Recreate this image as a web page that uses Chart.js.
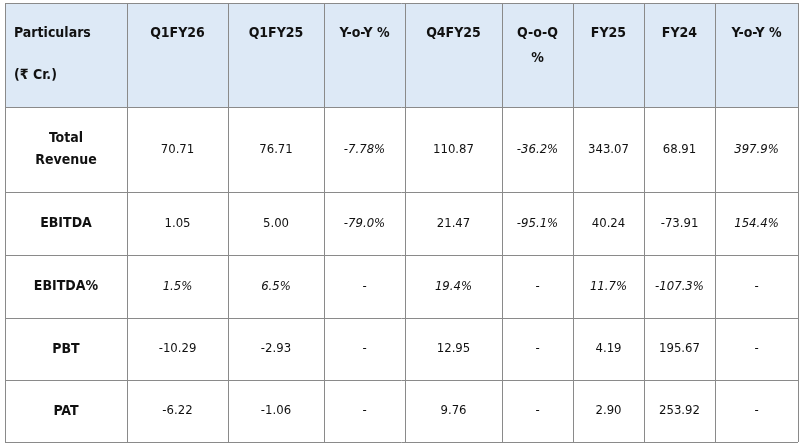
<!DOCTYPE html>
<html><head><meta charset="utf-8">
<script src="https://cdn.jsdelivr.net/npm/chart.js@4"></script>
<style>html,body{margin:0;padding:0;background:#fff}#wrap{width:801px;height:445px}</style>
</head><body><div id="wrap"><canvas id="tbl"></canvas></div>
<script>
// Table data
const headers = ['Particulars\n\n(₹ Cr.)', 'Q1FY26', 'Q1FY25', 'Y-o-Y %', 'Q4FY25', 'Q-o-Q\n%', 'FY25', 'FY24', 'Y-o-Y %'];
const rowLabels = ['Total\nRevenue', 'EBITDA', 'EBITDA%', 'PBT', 'PAT'];
const totalRevenue = ['70.71', '76.71', '-7.78%', '110.87', '-36.2%', '343.07', '68.91', '397.9%'];
const ebitda = ['1.05', '5.00', '-79.0%', '21.47', '-95.1%', '40.24', '-73.91', '154.4%'];
const ebitdaPct = ['1.5%', '6.5%', '-', '19.4%', '-', '11.7%', '-107.3%', '-'];
const pbt = ['-10.29', '-2.93', '-', '12.95', '-', '4.19', '195.67', '-'];
const pat = ['-6.22', '-1.06', '-', '9.76', '-', '2.90', '253.92', '-'];
const rows = [totalRevenue, ebitda, ebitdaPct, pbt, pat];

// layout (pixel grid units on the hidden linear scales)
const colEdges = [5, 127, 228, 324, 405, 502, 573, 644, 715, 798];
const rowEdges = [3, 107, 192, 255, 318, 380, 442];
const italicCell = (r, c) => r === 2 || (r < 2 && (c === 2 || c === 4 || c === 7));
const FONT = '"DejaVu Sans Condensed", "DejaVu Sans"';

const tablePlugin = {
  id: 'table',
  afterDraw(chart) {
    const ctx = chart.ctx, xs = chart.scales.x, ys = chart.scales.y;
    const X = v => xs.getPixelForValue(v), Y = v => ys.getPixelForValue(v);
    ctx.save();
    ctx.fillStyle = '#dde9f6';
    ctx.fillRect(X(colEdges[0]), Y(rowEdges[0]), X(colEdges[9]) - X(colEdges[0]), Y(rowEdges[1]) - Y(rowEdges[0]));
    ctx.strokeStyle = '#8a8a8a';
    ctx.lineWidth = 1;
    ctx.beginPath();
    colEdges.forEach(c => { ctx.moveTo(Math.round(X(c)) + .5, Y(rowEdges[0])); ctx.lineTo(Math.round(X(c)) + .5, Y(rowEdges[6])); });
    rowEdges.forEach(r => { ctx.moveTo(X(colEdges[0]), Math.round(Y(r)) + .5); ctx.lineTo(X(colEdges[9]), Math.round(Y(r)) + .5); });
    ctx.stroke();
    ctx.fillStyle = '#111';
    ctx.textBaseline = 'middle';
    const drawLines = (text, x, yTop, align, font, lh) => {
      ctx.font = font; ctx.textAlign = align;
      text.split('\n').forEach((l, i) => ctx.fillText(l, x, yTop + i * lh));
    };
    headers.forEach((h, c) => {
      const x0 = X(colEdges[c]), x1 = X(colEdges[c + 1]);
      if (c === 0) drawLines(h, x0 + 9, Y(33), 'left', 'bold 14px ' + FONT, 21);
      else drawLines(h, (x0 + x1) / 2, Y(33), 'center', 'bold 14px ' + FONT, 25);
    });
    rows.forEach((vals, r) => {
      const yc = (Y(rowEdges[r + 1]) + Y(rowEdges[r + 2])) / 2;
      const lab = rowLabels[r], n = lab.split('\n').length;
      drawLines(lab, (X(colEdges[0]) + X(colEdges[1])) / 2, yc - (n - 1) * 11, 'center', 'bold 14px ' + FONT, 22);
      vals.forEach((v, c) => {
        const x = (X(colEdges[c + 1]) + X(colEdges[c + 2])) / 2;
        const it = italicCell(r, c) && v !== '-';
        drawLines(v, x, yc, 'center', (it ? 'italic ' : '') + '13px ' + FONT, 16);
      });
    });
    ctx.restore();
  }
};

new Chart(document.getElementById('tbl'), {
  type: 'scatter',
  data: { datasets: [{ data: [], pointRadius: 0 }] },
  options: {
    responsive: true, maintainAspectRatio: false, animation: false,
    layout: { padding: 0 },
    plugins: { legend: { display: false }, tooltip: { enabled: false } },
    scales: {
      x: { type: 'linear', min: 0, max: 801, display: false },
      y: { type: 'linear', min: 0, max: 445, reverse: true, display: false }
    }
  },
  plugins: [tablePlugin]
});
</script></body></html>
